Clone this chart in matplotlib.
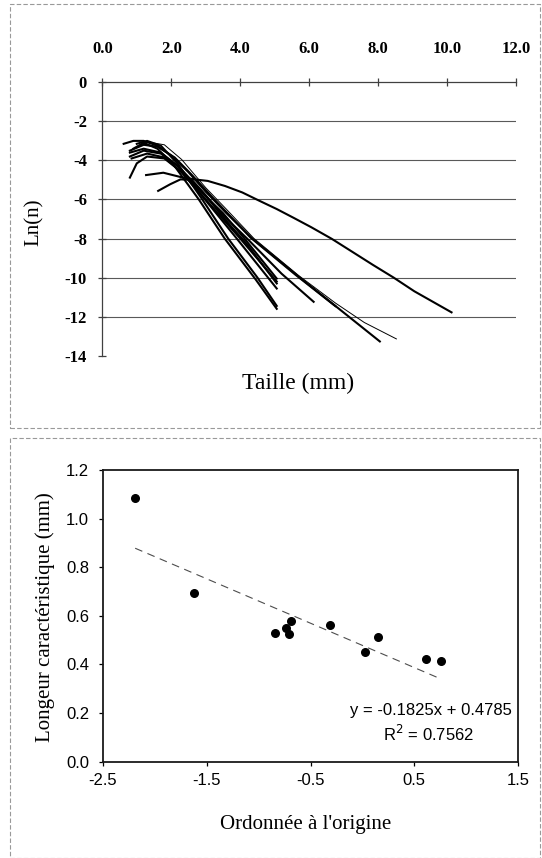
import matplotlib
matplotlib.use("Agg")
import matplotlib.pyplot as plt
from matplotlib.patches import Rectangle

plt.rcParams["axes.unicode_minus"] = False

SERIF = "Liberation Serif"
SANS = "Liberation Sans"

# top panel: ln(n) vs size (mm), one curve per sample
curves = {
    "A": ([1.27, 1.77, 2.27, 2.66, 3.06, 3.56, 4.06, 4.56, 5.06, 5.56, 6.06, 6.66,
           7.26, 7.85, 8.45, 9.05, 10.13],
          [-4.75, -4.63, -4.85, -4.97, -5.05, -5.31, -5.64, -6.07, -6.49, -6.95, -7.42,
           -8.02, -8.69, -9.35, -10.0, -10.7, -11.78]),
    "B": ([1.62, 1.97, 2.27, 2.6, 3.0, 3.5, 4.2, 5.06],
          [-5.56, -5.22, -4.97, -5.0, -5.8, -6.9, -8.3, -10.3]),
    "C": ([0.62, 0.9, 1.2, 1.6, 2.0, 2.5, 3.0, 3.6, 4.35, 5.73, 6.76, 8.05],
          [-3.15, -3.0, -3.0, -3.25, -3.75, -4.6, -5.6, -6.7, -8.0, -10.0, -11.45, -13.27]),
    "E": ([0.8, 1.2, 1.6, 2.1, 2.6, 3.2, 4.3, 5.6, 6.76],
          [-3.5, -3.2, -3.3, -3.85, -4.75, -5.9, -7.95, -9.85, -11.46]),
    "F": ([0.8, 1.2, 1.7, 2.2, 2.8, 3.5, 4.2, 5.2, 6.13],
          [-3.6, -3.4, -3.6, -4.3, -5.4, -6.8, -8.0, -9.8, -11.24]),
    "G": ([0.8, 1.2, 1.7, 2.2, 2.8, 3.5, 4.1, 5.06],
          [-3.8, -3.5, -3.65, -4.3, -5.5, -6.7, -7.95, -10.05]),
    "H": ([0.85, 1.3, 1.8, 2.3, 3.0, 4.0, 5.06],
          [-3.9, -3.65, -3.85, -4.6, -6.0, -8.0, -10.2]),
    "I": ([0.8, 1.0, 1.3, 1.8, 2.3, 3.0, 3.9, 5.06],
          [-4.88, -4.15, -3.8, -3.9, -4.6, -6.05, -8.0, -10.56]),
    "J": ([1.0, 1.3, 1.7, 2.2, 2.9, 3.65, 4.5, 5.06],
          [-3.15, -3.0, -3.25, -4.2, -6.0, -8.0, -10.0, -11.45]),
    "K": ([0.9, 1.2, 1.6, 2.1, 2.8, 3.55, 4.45, 5.06],
          [-3.4, -3.1, -3.4, -4.3, -6.0, -8.0, -10.1, -11.6]),
}
thin_curve = ([1.0, 1.3, 1.8, 2.3, 3.0, 3.6, 4.4, 5.7, 6.76, 7.6, 8.53],
              [-3.3, -3.05, -3.2, -3.95, -5.4, -6.5, -8.0, -9.9, -11.3, -12.3, -13.14])

# bottom panel: characteristic length vs intercept
intercept = [-2.19, -1.62, -0.84, -0.74, -0.69, -0.71, -0.31, 0.03, 0.15, 0.61, 0.76]
length = [1.084, 0.694, 0.531, 0.550, 0.578, 0.524, 0.564, 0.453, 0.512, 0.421, 0.416]
slope, offset = -0.1825, 0.4785

W, H = 542, 858
fig = plt.figure(figsize=(W / 100, H / 100), dpi=100)
fig.patch.set_facecolor("white")


def px_axes(left, top, right, bottom):
    return fig.add_axes([left / W, 1 - bottom / H, (right - left) / W, (bottom - top) / H])


def px_text(x, y, s, **kw):
    return fig.text(x / W, 1 - y / H, s, ha="center", va="center", **kw)


# scanned panel frames
for (x0, y0, x1, y1) in [(10, 4, 540, 428), (10, 438, 540, 858)]:
    fig.patches.append(Rectangle((x0 / W, 1 - y1 / H), (x1 - x0) / W, (y1 - y0) / H,
                                 transform=fig.transFigure, fill=False,
                                 edgecolor="0.6", linewidth=0.8, linestyle=(0, (4, 2))))

# ---- top panel
ax1 = px_axes(102.3, 82.3, 516, 355.7)
for k, (x, y) in curves.items():
    ax1.plot(x, y, color="black", linewidth=1.5, solid_joinstyle="round")
ax1.plot(*thin_curve, color="black", linewidth=0.7)
ax1.set_xlim(0, 12)
ax1.set_ylim(-14, 0)
ax1.set_xticks(range(0, 13, 2))
ax1.set_xticklabels([f"{v:.1f}" for v in range(0, 13, 2)])
ax1.set_yticks(range(-14, 1, 2))
ax1.xaxis.tick_top()
for yv in range(-12, 0, 2):
    ax1.axhline(yv, color="0.35", linewidth=0.8, zorder=0)
for s in ["right", "bottom"]:
    ax1.spines[s].set_visible(False)
for s in ["top", "left"]:
    ax1.spines[s].set_color("0.25")
    ax1.spines[s].set_linewidth(0.9)
ax1.tick_params(axis="both", direction="inout", length=6, width=0.9, color="0.25",
                labelsize=12)
ax1.tick_params(axis="x", pad=15)
ax1.tick_params(axis="y", pad=8)
for lab in ax1.get_xticklabels() + ax1.get_yticklabels():
    lab.set_fontfamily(SERIF)
    lab.set_fontweight("bold")
px_text(34.6, 222, "Ln(n)", family=SERIF, fontsize=15, rotation=90)
px_text(297.6, 383, "Taille (mm)", family=SERIF, fontsize=17)

# ---- bottom panel
ax2 = px_axes(103, 470, 518, 761.7)
ax2.scatter(intercept, length, s=30, color="black", zorder=3)
xs = [min(intercept), max(intercept)]
ax2.plot(xs, [slope * v + offset for v in xs], color="0.3", linewidth=0.8,
         linestyle=(0, (7, 5)))
ax2.set_xlim(-2.5, 1.5)
ax2.set_ylim(0, 1.2)
ax2.set_xticks([-2.5, -1.5, -0.5, 0.5, 1.5])
ax2.set_yticks([0.0, 0.2, 0.4, 0.6, 0.8, 1.0, 1.2])
ax2.set_xticklabels(["-2.5", "-1.5", "-0.5", "0.5", "1.5"])
ax2.set_yticklabels([f"{v:.1f}" for v in [0.0, 0.2, 0.4, 0.6, 0.8, 1.0, 1.2]])
for s in ax2.spines.values():
    s.set_linewidth(1.3)
    s.set_color("0.1")
ax2.tick_params(axis="both", direction="out", length=3, width=0.9, labelsize=12)
ax2.tick_params(axis="x", pad=5)
ax2.tick_params(axis="y", pad=7)
for lab in ax2.get_xticklabels() + ax2.get_yticklabels():
    lab.set_fontfamily(SANS)
ax2.text(0.985, 0.175, "y = -0.1825x + 0.4785", transform=ax2.transAxes, family=SANS,
         fontsize=12, ha="right", va="center")
ax2.text(0.785, 0.095, "R$^2$ = 0.7562", transform=ax2.transAxes, family=SANS,
         fontsize=12, ha="center", va="center")
px_text(45, 616.7, "Longeur caractéristique (mm)", family=SERIF, fontsize=15, rotation=90)
px_text(306, 824, "Ordonnée à l'origine", family=SERIF, fontsize=15)

fig.savefig("out.png", dpi=100, facecolor="white")
